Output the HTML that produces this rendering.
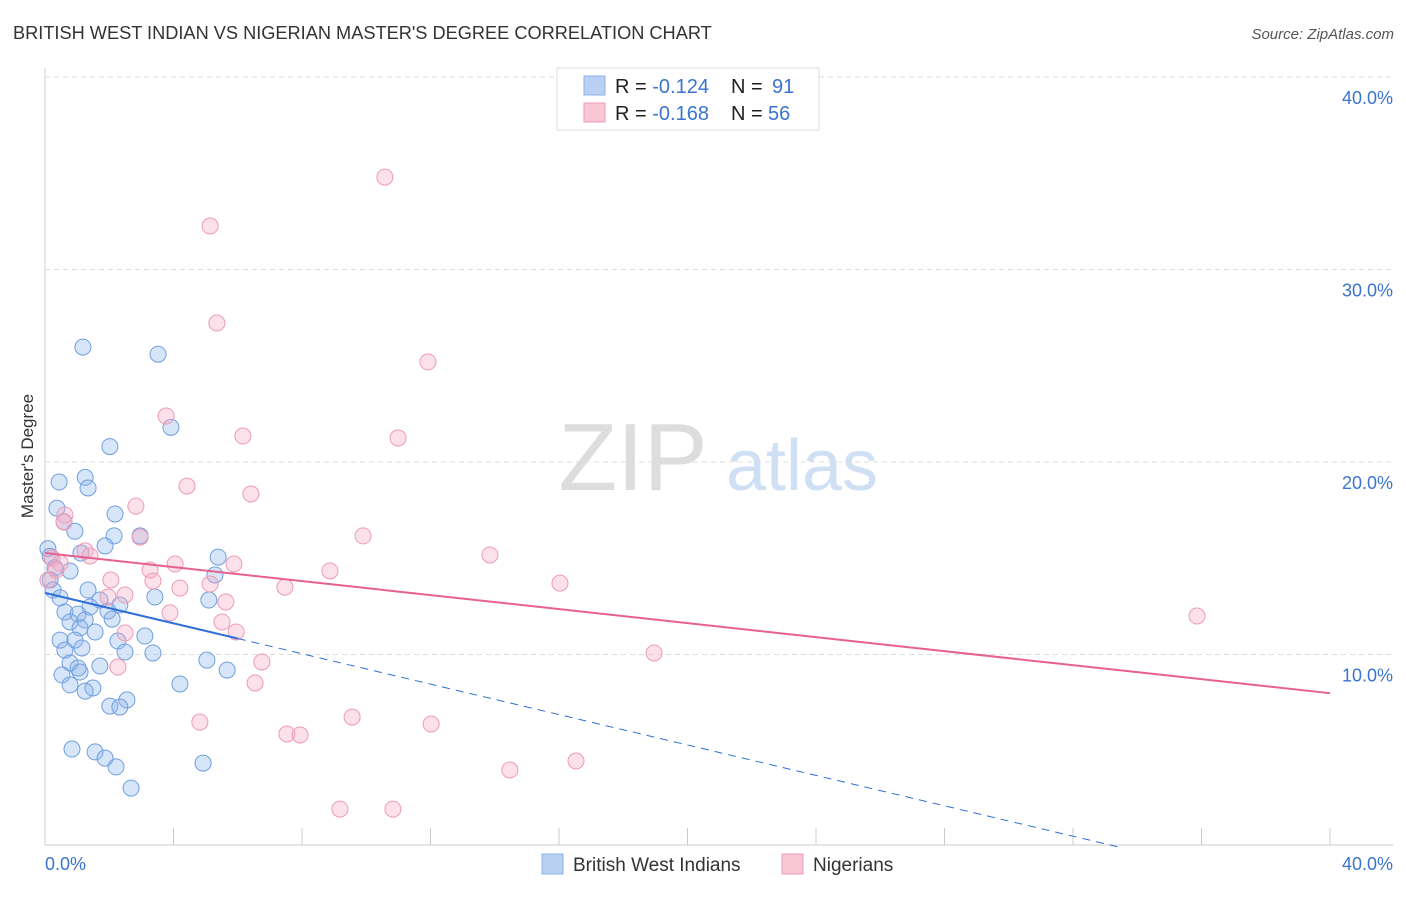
<!DOCTYPE html>
<html><head><meta charset="utf-8"><style>
body{margin:0;background:#fff;font-family:"Liberation Sans",sans-serif}
svg text{font-family:"Liberation Sans",sans-serif}
</style></head><body>
<svg id="c" width="1406" height="892">
<text x="13" y="39" font-size="18.2" fill="#333">BRITISH WEST INDIAN VS NIGERIAN MASTER'S DEGREE CORRELATION CHART</text>
<text x="1394" y="39" font-size="15" fill="#555" font-style="italic" text-anchor="end">Source: ZipAtlas.com</text>
<text x="633" y="490" font-size="96" fill="#ddd" font-family="Liberation Serif" text-anchor="middle">ZIP</text>
<text x="802" y="490" font-size="72" fill="#cfe0f4" text-anchor="middle">atlas</text>
<text transform="translate(33,456) rotate(-90)" font-size="17" fill="#333" text-anchor="middle">Master's Degree</text>
<g id="grid"></g><g id="pts"></g><g id="lines"></g>
<rect x="557" y="68" width="262" height="62" fill="#fff" stroke="#ddd"/>
<rect x="584" y="76" width="21" height="19" fill="#b8d1f3" stroke="#8bb1e8"/>
<rect x="584" y="103" width="21" height="19" fill="#f9c6d5" stroke="#f09ab4"/>
<text x="615" y="93" font-size="20" fill="#222">R = <tspan fill="#3a74d0">-0.124</tspan><tspan x="731">N = </tspan><tspan x="772" fill="#3a74d0">91</tspan></text>
<text x="615" y="120" font-size="20" fill="#222">R = <tspan fill="#3a74d0">-0.168</tspan><tspan x="731">N = </tspan><tspan x="768" fill="#3a74d0">56</tspan></text>
<text x="45" y="870" font-size="18" fill="#3a74d0">0.0%</text>
<text x="1393" y="870" font-size="18" fill="#3a74d0" text-anchor="end">40.0%</text>
<rect x="542" y="854" width="21" height="20" fill="#b8d1f3" stroke="#8bb1e8"/>
<text x="573" y="871" font-size="19" fill="#333">British West Indians</text>
<rect x="782" y="854" width="21" height="20" fill="#f9c6d5" stroke="#f09ab4"/>
<text x="813" y="871" font-size="19" fill="#333">Nigerians</text>
</svg>
<script>
const yTicks=[10,20,30,40];
const xTicks=[4,8,12,16,20,24,28,32,36,40];
const blueX=[1.18,3.52,2.02,3.92,1.25,1.34,0.44,0.37,2.18,0.59,0.93,2.96,2.15,1.87,0.09,0.16,1.12,5.39,0.31,0.78,5.29,0.16,0.25,1.34,0.47,3.42,5.1,1.71,2.33,1.4,0.62,1.96,1.03,2.09,0.78,1.25,1.09,1.56,0.47,0.93,3.11,2.27,1.15,0.62,2.49,3.36,5.04,0.78,1.71,1.03,5.67,0.53,1.09,0.78,4.2,1.49,1.25,2.55,2.02,2.33,0.84,1.56,1.87,2.21,4.92,2.68];
const blueY=[25.97,25.6,20.8,21.8,19.2,18.65,18.96,17.6,17.3,16.9,16.4,16.16,16.16,15.64,15.5,15.1,15.27,15.06,14.5,14.34,14.13,13.87,13.35,13.35,12.94,12.99,12.83,12.83,12.57,12.47,12.21,12.26,12.1,11.84,11.69,11.79,11.38,11.17,10.75,10.75,10.96,10.7,10.34,10.23,10.13,10.08,9.71,9.56,9.4,9.3,9.19,8.94,9.09,8.42,8.47,8.26,8.1,7.64,7.32,7.27,5.09,4.94,4.62,4.16,4.36,3.06];
const pinkX=[10.58,5.14,5.35,11.92,3.77,6.16,10.99,4.42,6.41,2.83,0.62,0.59,9.9,2.96,1.25,13.85,0.22,1.4,0.47,5.88,4.05,8.87,3.27,2.05,16.03,3.36,5.14,4.2,7.47,2.49,1.96,5.63,3.89,35.86,5.51,2.49,5.95,6.75,2.27,18.96,6.54,4.82,9.56,12.02,7.53,7.94,14.47,16.53,9.18,10.83,0.34,0.09];
const pinkY=[34.8,32.26,27.22,25.2,22.39,21.35,21.25,18.75,18.34,17.71,17.25,16.88,16.16,16.1,15.38,15.17,15.01,15.12,14.75,14.7,14.7,14.34,14.39,13.87,13.71,13.82,13.66,13.45,13.5,13.09,12.99,12.73,12.16,12.0,11.69,11.12,11.17,9.61,9.35,10.08,8.52,6.49,6.75,6.39,5.87,5.82,4.0,4.47,1.97,1.97,14.39,13.87];
const blueTrend=[13.2,-0.395];
const pinkTrend=[15.27,-0.182];
const NS='http://www.w3.org/2000/svg';
const X=v=>45+v*32.125, Y=v=>847-v*19.25;
function mk(p,t,a){const e=document.createElementNS(NS,t);for(const k in a)e.setAttribute(k,a[k]);document.getElementById(p).appendChild(e);return e;}
yTicks.forEach(t=>{
 let l=mk('grid','line',{x1:45,x2:1393,y1:Y(t),y2:Y(t),stroke:'#ddd','stroke-dasharray':'5,4'});
 
 
 let tx=mk('grid','text',{x:1393,y:Y(t)+27,'font-size':18,fill:'#3a74d0','text-anchor':'end'});tx.textContent=t.toFixed(1)+'%';
 
 
});
xTicks.forEach(t=>{
 let l=mk('grid','line',{x1:X(t),x2:X(t),y1:828,y2:845,stroke:'#ccc'});
 
 
});
let ax=mk('grid','line',{x1:45,x2:1393,y1:845,y2:845,stroke:'#ccc'});


let ay=mk('grid','line',{x1:45,x2:45,y1:68,y2:845,stroke:'#ccc'});


blueX.forEach((v,i)=>{
 let c=mk('pts','circle',{cx:X(v),cy:Y(blueY[i]),r:8,fill:'rgba(140,180,235,0.35)',stroke:'#6f9fe0','stroke-width':1});
 
 
});
pinkX.forEach((v,i)=>{
 let c=mk('pts','circle',{cx:X(v),cy:Y(pinkY[i]),r:8,fill:'rgba(245,170,195,0.35)',stroke:'#ee9ab5','stroke-width':1});
 
 
});
let pe=40;
let pl=mk('lines','line',{x1:X(0),y1:Y(pinkTrend[0]),x2:X(pe),y2:Y(pinkTrend[0]+pinkTrend[1]*pe),stroke:'#e8608e','stroke-width':2});


let bs=6,be=-blueTrend[0]/blueTrend[1];
let bl=mk('lines','line',{x1:X(0),y1:Y(blueTrend[0]),x2:X(bs),y2:Y(blueTrend[0]+blueTrend[1]*bs),stroke:'#2f6fd6','stroke-width':2});


let bd=mk('lines','line',{x1:X(bs),y1:Y(blueTrend[0]+blueTrend[1]*bs),x2:X(be),y2:Y(0),stroke:'#2f6fd6','stroke-width':1,'stroke-dasharray':'8,6'});


</script>
</body></html>
